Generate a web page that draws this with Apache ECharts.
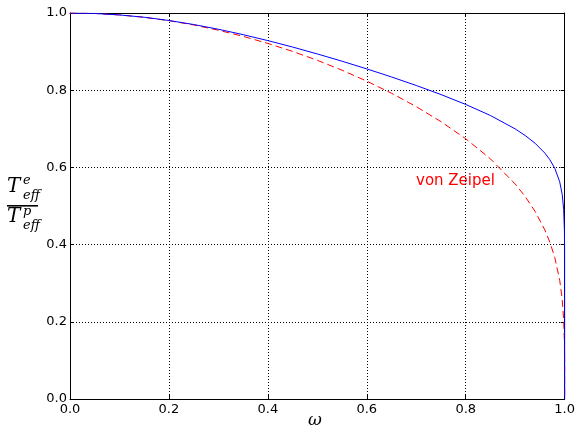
<!DOCTYPE html>
<html>
<head>
<meta charset="utf-8">
<script src="https://cdn.jsdelivr.net/npm/echarts@6/dist/echarts.min.js"></script>
<style>
html,body{margin:0;padding:0;background:#fff;}
#c{width:578px;height:429px;}
</style>
</head>
<body>
<div id="c"></div>
<script>
// rotation rate omega (x values)
var omega = [0, 0.05, 0.1, 0.15, 0.2, 0.25, 0.3, 0.35, 0.4, 0.45, 0.5, 0.55, 0.6, 0.65, 0.7, 0.75, 0.8, 0.85, 0.9, 0.92, 0.94, 0.96, 0.97, 0.98, 0.99, 0.995, 0.998, 0.9995, 0.9999, 1];
// blue solid curve: Teff equator / Teff pole
var ratioBlue = [1.0, 0.9988, 0.9950, 0.9890, 0.9806, 0.9702, 0.9579, 0.9439, 0.9285, 0.9118, 0.8939, 0.8751, 0.8552, 0.8343, 0.8122, 0.7887, 0.7631, 0.7344, 0.6997, 0.6828, 0.6628, 0.6370, 0.6201, 0.5978, 0.5626, 0.5302, 0.4908, 0.4371, 0.3822, 0.0];
// red dashed curve: von Zeipel
var ratioVonZeipel = [1.0, 0.9988, 0.9950, 0.9888, 0.9801, 0.9690, 0.9554, 0.9395, 0.9212, 0.9005, 0.8774, 0.8518, 0.8234, 0.7921, 0.7574, 0.7185, 0.6742, 0.6221, 0.5570, 0.5248, 0.4865, 0.4378, 0.4066, 0.3667, 0.3077, 0.2584, 0.2054, 0.1452, 0.0971, 0.0];
var xTicks = [0, 0.2, 0.4, 0.6, 0.8, 1.0];
var yTicks = [0, 0.2, 0.4, 0.6, 0.8, 1.0];
var curveLabel = 'von Zeipel';

function pairs(xs, ys){ return xs.map(function(x,i){ return [x, ys[i]]; }); }

var chart = echarts.init(document.getElementById('c'), null, {renderer:'canvas'});
var tickFont = {fontFamily:'DejaVu Sans', fontSize:13, color:'#000'};
var gridLine = {show:true, lineStyle:{color:'#000', width:1, type:[1,2]}};
var option = {
  animation:false,
  backgroundColor:'#fff',
  grid:{left:70, right:12, top:13, bottom:30, containLabel:false},
  xAxis:[
    {type:'value', min:0, max:1, interval:0.2, position:'bottom',
     axisLine:{show:true, onZero:false, lineStyle:{color:'#000', width:1}},
     axisTick:{show:true, inside:true, length:4, lineStyle:{color:'#000'}},
     axisLabel:Object.assign({margin:4, formatter:function(v){return v.toFixed(1);}}, tickFont),
     splitLine:gridLine},
    {type:'value', min:0, max:1, interval:0.2, position:'top',
     axisLine:{show:true, onZero:false, lineStyle:{color:'#000', width:1}},
     axisTick:{show:true, inside:true, length:4, lineStyle:{color:'#000'}},
     axisLabel:{show:false}, splitLine:{show:false}}
  ],
  yAxis:[
    {type:'value', min:0, max:1, interval:0.2, position:'left',
     axisLine:{show:true, onZero:false, lineStyle:{color:'#000', width:1}},
     axisTick:{show:true, inside:true, length:4, lineStyle:{color:'#000'}},
     axisLabel:Object.assign({margin:3, formatter:function(v){return v.toFixed(1);}}, tickFont),
     splitLine:gridLine},
    {type:'value', min:0, max:1, interval:0.2, position:'right',
     axisLine:{show:true, onZero:false, lineStyle:{color:'#000', width:1}},
     axisTick:{show:true, inside:true, length:4, lineStyle:{color:'#000'}},
     axisLabel:{show:false}, splitLine:{show:false}}
  ],
  series:[
    {type:'line', name:'ratio', data:pairs(omega, ratioBlue), showSymbol:false, symbol:'none',
     lineStyle:{color:'#0000ff', width:1}, z:3},
    {type:'line', name:curveLabel, data:pairs(omega, ratioVonZeipel), showSymbol:false, symbol:'none',
     lineStyle:{color:'#ff0000', width:1, type:[7,4]}, z:2}
  ],
  graphic:[
    {type:'text', left:416, top:174, style:{text:curveLabel, fill:'#ff0000', font:'15px "DejaVu Sans"'}},
    {type:'text', x:315, y:421, style:{text:'ω', fill:'#000', font:'italic 17px "DejaVu Serif"', align:'center', verticalAlign:'middle'}},
    // y-axis label: T_eff^e / T_eff^p
    {type:'text', x:7, y:197, style:{text:'T', fill:'#000', font:'italic 20px "DejaVu Serif"', verticalAlign:'bottom'}},
    {type:'text', x:23, y:187, style:{text:'e', fill:'#000', font:'italic 13px "DejaVu Serif"', verticalAlign:'bottom'}},
    {type:'text', x:23, y:202, style:{text:'eff', fill:'#000', font:'italic 13px "DejaVu Serif"', verticalAlign:'bottom'}},
    {type:'rect', shape:{x:7, y:205, width:31, height:1.6}, style:{fill:'#000'}},
    {type:'text', x:7, y:227, style:{text:'T', fill:'#000', font:'italic 20px "DejaVu Serif"', verticalAlign:'bottom'}},
    {type:'text', x:23, y:218, style:{text:'p', fill:'#000', font:'italic 13px "DejaVu Serif"', verticalAlign:'bottom'}},
    {type:'text', x:23, y:232, style:{text:'eff', fill:'#000', font:'italic 13px "DejaVu Serif"', verticalAlign:'bottom'}}
  ]
};
chart.setOption(option);
</script>
</body>
</html>
